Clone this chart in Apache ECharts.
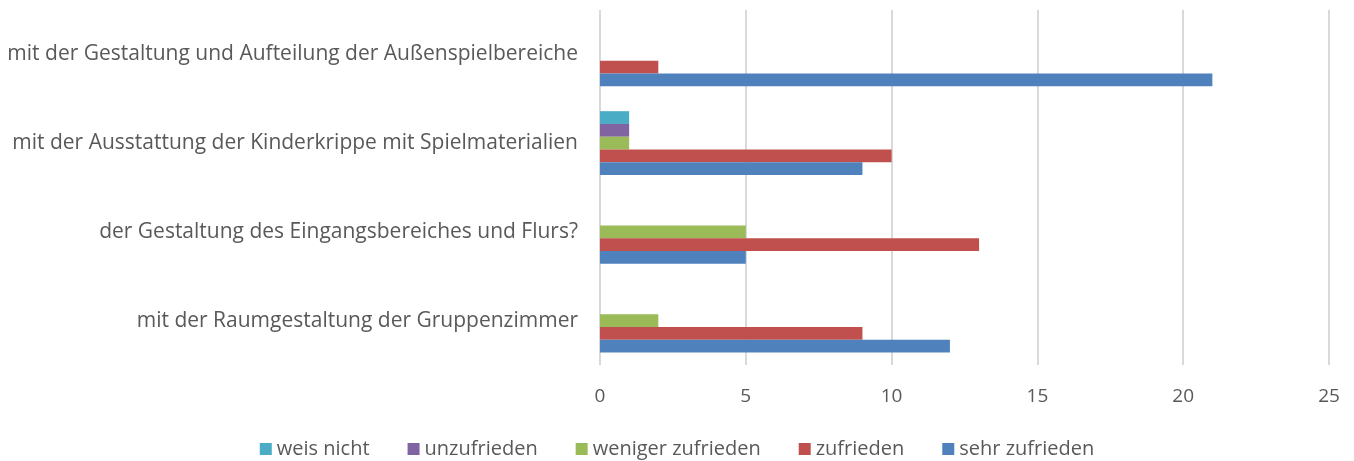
<!DOCTYPE html>
<html>
<head>
<meta charset="utf-8">
<script src="https://cdn.jsdelivr.net/npm/echarts@6/dist/echarts.min.js"></script>
<style>
  html, body { margin: 0; padding: 0; background: #fff; }
  #chart { width: 1354px; height: 461px; }
</style>
</head>
<body>
<div id="chart"></div>
<script>
const categories = [
  'mit der Raumgestaltung der Gruppenzimmer',
  'der Gestaltung des Eingangsbereiches und Flurs?',
  'mit der Ausstattung der Kinderkrippe mit Spielmaterialien',
  'mit der Gestaltung und Aufteilung der Außenspielbereiche',
];
const sehrZufrieden = [12, 5, 9, 21];
const zufrieden = [9, 13, 10, 2];
const wenigerZufrieden = [2, 5, 1, null];
const unzufrieden = [null, null, 1, null];
const weisNicht = [null, null, 1, null];

const font = '"Open Sans", "Noto Sans", sans-serif';
const textColor = '#595959';

const mk = (name, data, color) => ({
  name,
  type: 'bar',
  data,
  barGap: '0%',
  barCategoryGap: '28%',
  itemStyle: { color },
});

const chart = echarts.init(document.getElementById('chart'));
chart.setOption({
  animation: false,
  grid: { left: 600, right: 25, top: 10, bottom: 96 },
  legend: {
    top: 434,
    left: 'center',
    icon: 'rect',
    itemWidth: 12,
    itemHeight: 12,
    itemGap: 38,
    textStyle: { color: textColor, fontSize: 20, fontFamily: font },
  },
  xAxis: {
    type: 'value',
    min: 0,
    max: 25,
    interval: 5,
    axisLine: { show: false },
    axisTick: { show: false },
    axisLabel: { color: textColor, fontSize: 19, fontFamily: font, margin: 22 },
    splitLine: { lineStyle: { color: '#d9d9d9', width: 2 } },
  },
  yAxis: {
    type: 'category',
    data: categories,
    axisLine: { show: false },
    axisTick: { show: false },
    axisLabel: { color: textColor, fontSize: 21, fontFamily: font, margin: 22 },
  },
  series: [
    mk('weis nicht', weisNicht, '#4BACC6'),
    mk('unzufrieden', unzufrieden, '#8064A2'),
    mk('weniger zufrieden', wenigerZufrieden, '#9BBB59'),
    mk('zufrieden', zufrieden, '#C0504D'),
    mk('sehr zufrieden', sehrZufrieden, '#4F81BD'),
  ],
});
</script>
</body>
</html>
